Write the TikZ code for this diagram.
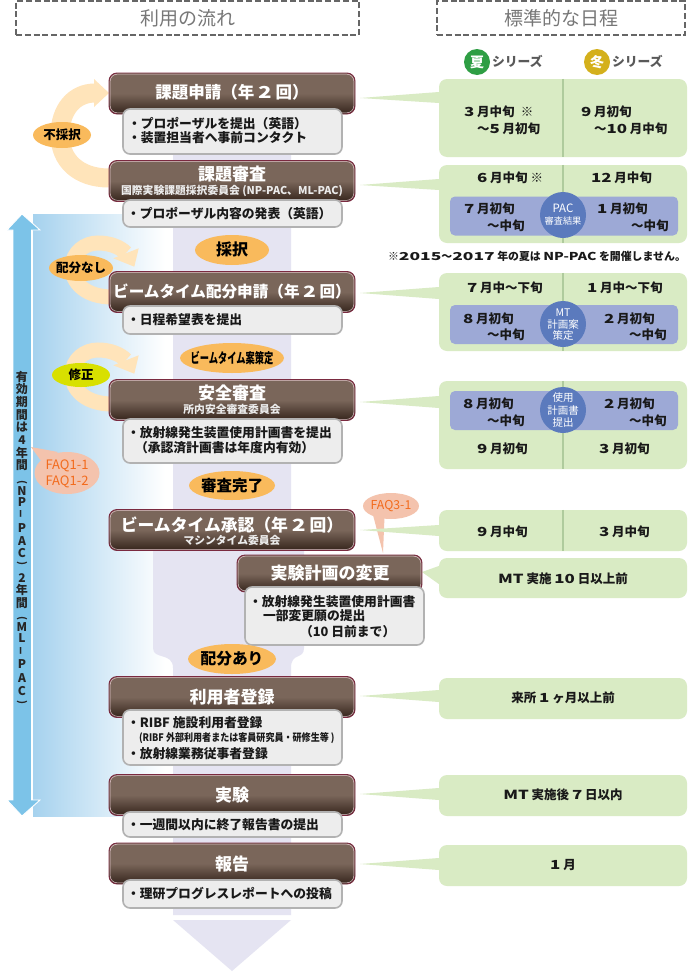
\documentclass[tikz,border=0pt]{standalone}
\usepackage{fontspec}
\usepackage{graphicx}
\setmainfont{Noto Sans CJK JP}
\usetikzlibrary{shapes.geometric,calc}
\definecolor{lav}{HTML}{E5E4F2}
\definecolor{orng}{HTML}{F9BA5C}
\definecolor{loopc}{HTML}{FFE4BA}
\definecolor{panelc}{HTML}{D9EBC4}
\definecolor{divc}{HTML}{AFCB9D}
\definecolor{innerc}{HTML}{9DA9D6}
\definecolor{circc}{HTML}{5B7ABD}
\definecolor{peach}{HTML}{F4C3AD}
\definecolor{faqt}{HTML}{F26B1D}
\definecolor{arrowb}{HTML}{7CC3E8}
\definecolor{maroonc}{HTML}{7A2A40}
\definecolor{pinkl}{HTML}{E2C4CA}
\definecolor{hdr}{HTML}{777777}
\definecolor{bb1}{HTML}{7A665A}
\definecolor{bb3}{HTML}{3D2C23}
\definecolor{skyb}{HTML}{A6D2EE}
\definecolor{limec}{HTML}{D8E000}
\definecolor{sumg}{HTML}{2E9E44}
\definecolor{winy}{HTML}{D4B01C}
\pgfdeclareverticalshading{brownbar}{100bp}{color(0bp)=(bb3); color(28bp)=(bb3); color(50bp)=(bb1); color(100bp)=(bb1)}
\newcounter{tnc}
\newcommand\fz[1]{\fontsize{#1}{#1}\selectfont}
\newcommand\wid[2][1.35]{\scalebox{#1}[1]{#2}}
\newcommand\txtn[4]{\stepcounter{tnc}\node[tx,#3] (tx\arabic{tnc}) at (#1,#2) {\rule[-.14em]{0pt}{1em}#4};}
\newcommand\txv[4]{\stepcounter{tnc}\node[tx,font=\bfseries\fz{#3},rotate=#4,text=black!85] (tx\arabic{tnc}) at (22,#1) {#2};}
\newcommand\tibox[5]{\node[titlebox,minimum width=#4,minimum height=#5] (#1) at (#2,#3) {};
 \node[titlein,minimum width=#4-2.4,minimum height=#5-2.4] (#1i) at (#2,#3) {};}
\newcommand\debox[5]{\node[detailbox,minimum width=#4,minimum height=#5] (#1) at (#2,#3) {};}
\newcommand\ovl[8]{\node[ellipse,fill=#6,inner sep=0,minimum width=#4,minimum height=#5] (#1) at (#2,#3) {};
 \node[tx,font=\bfseries\fz{#7}] (#1t) at (#1.center) {\rule[-.14em]{0pt}{1em}#8};}
\newcommand\pnl[5]{\node[panelbox,minimum width=#4,minimum height=#5] (#1) at (#2,#3) {};}
\newcommand\ptrn[4]{\fill[panelc] (360,#2) -- (#1.west |- 0,#3) -- (#1.west |- 0,#4) -- cycle;}
\tikzset{
 tx/.style={inner sep=0,outer sep=0,anchor=center,text=black},
 ttl/.style={text=white,font=\bfseries\fz{#1}},
 sub/.style={text=white!92!black,font=\bfseries\fz{10.8}},
 det/.style={anchor=west,font=\bfseries\fz{12.8},text=black!90},
 sch/.style={anchor=west,font=\bfseries\fz{12.5},text=black!90},
 schc/.style={font=\bfseries\fz{12.5},text=black!90},
 cir/.style={text=white,font=\fz{#1}},
 titlebox/.style={rounded corners=8pt,draw=maroonc,line width=.9pt,shading=brownbar,inner sep=0},
 titlein/.style={rounded corners=7pt,draw=pinkl,line width=.5pt,inner sep=0},
 detailbox/.style={rounded corners=7pt,draw=black!30,fill=black!7,line width=1.6pt,inner sep=0},
 panelbox/.style={rounded corners=8pt,fill=panelc,inner sep=0},
 innerbox/.style={rounded corners=5pt,fill=innerc,inner sep=0,minimum width=228,minimum height=39},
 circbox/.style={circle,fill=circc,inner sep=0,minimum size=46},
 headbox/.style={draw=black!60,line width=1.8pt,dash pattern=on 6pt off 2.8pt,inner sep=0,minimum height=34},
 bandc/.style={fill=lav},
 loopband/.style={draw=loopc,line width=#1},
 loophead/.style={fill=loopc},
}
\begin{document}
\begin{tikzpicture}[x=1pt,y=-1pt]
\useasboundingbox (0,0) rectangle (690,972);
\fill[white] (0,0) rectangle (690,972);
% headers
\node[headbox,minimum width=343] (h1) at (187.5,18) {};
\node[tx,text=hdr,font=\fz{19}] (h1t) at (h1.center) {利用の流れ};
\node[headbox,minimum width=248] (h2) at (561,18) {};
\node[tx,text=hdr,font=\fz{19}] (h2t) at (h2.center) {標準的な日程};
% blue gradient
\shade[left color=skyb,right color=white] (33,214) rectangle (165,816);
% lavender band
\path[bandc] (173,150) -- (173,535) -- (153,545) -- (153,648) .. controls (153,660) and (173,652) .. (173,668) -- (173,915) -- (291,915) -- (291,668) .. controls (291,652) and (304,660) .. (304,648) -- (304,545) -- (291,535) -- (291,150) -- cycle;
\path[bandc] (173,920) -- (291,920) -- (232,971) -- cycle;
% long double arrow
\path[fill=arrowb,draw=white,line width=.9pt] (22,214) -- (40,230) -- (31.5,230) -- (31.5,800) -- (40,800) -- (22,816) -- (7,800) -- (13,800) -- (13,230) -- (7,230) -- cycle;
\foreach \c/\y in {有/377,効/389,期/402,間/415,は/427,4/440,年/453,間/465,N/491,P/502,P/528,A/541,C/553,2/578,年/590,間/603,M/627,L/638,P/664,A/678,C/691}{
 \txv{\y}{\c}{12}{0}
}
\txv{482}{(}{10}{-90}
\txv{514}{\scalebox{2}[1]{-}}{12}{90}
\txv{563}{)}{10}{-90}
\txv{618}{(}{10}{-90}
\txv{651}{\scalebox{2}[1]{-}}{12}{90}
\txv{702}{)}{10}{-90}
% loops
\path[loopband=19pt] (109,178) .. controls (78,178) and (60,160) .. (60,135) .. controls (60,110) and (74,93) .. (95,93);
\path[loophead] (109,93) -- (94,79) -- (94,107) -- cycle;
\path[loopband=15pt] (112,297) .. controls (85,297) and (72,282) .. (72,268) .. controls (72,252) and (85,243) .. (98,243) .. controls (110,243) and (120,247) .. (126,253);
\path[loophead] (134.3,266.7) -- (138.7,248.3) -- (113.3,258.3) -- cycle;
\path[loopband=15pt] (112,404) .. controls (85,404) and (72,389) .. (72,375) .. controls (72,359) and (85,350) .. (98,350) .. controls (110,350) and (120,354) .. (126,360);
\path[loophead] (134.3,373.7) -- (138.7,355.3) -- (113.3,365.3) -- cycle;
% callout FAQ1
\path[fill=peach] (31,447) -- (58,452) -- (42,462) -- cycle;
\node[ellipse,fill=peach,inner sep=0,minimum width=65,minimum height=42] (faq1) at (67,473) {};
\txtn{67}{465.5}{font=\fz{13},text=faqt}{FAQ1-1}
\txtn{67}{481}{font=\fz{13},text=faqt}{FAQ1-2}
% callout FAQ3
\path[fill=peach] (373,515) -- (383,553) -- (384.5,517) -- cycle;
\node[ellipse,fill=peach,inner sep=0,minimum width=56,minimum height=26] (faq3) at (391,506) {};
\node[tx,font=\fz{12.3},text=faqt] (faq3t) at (faq3.center) {FAQ3-1};
% panels
\pnl{p1}{563}{118}{248}{78}
\pnl{p2}{563}{204}{248}{78}
\pnl{p3}{563}{312}{248}{78}
\pnl{p4}{563}{425}{248}{88}
\pnl{p5}{563}{530.5}{248}{41}
\pnl{p6}{563}{578}{248}{40}
\pnl{p7}{563}{698.5}{248}{41}
\pnl{p8}{563}{795.5}{248}{41}
\pnl{p9}{563}{865.5}{248}{41}
\ptrn{p1}{98}{92}{103}
\ptrn{p2}{185}{179}{190}
\ptrn{p3}{293}{287}{299}
\ptrn{p4}{402}{396}{408}
\ptrn{p5}{530}{525}{536}
\ptrn{p7}{696}{690}{702}
\ptrn{p8}{794}{788}{800}
\ptrn{p9}{864}{858}{870}
\fill[panelc] (422,572) -- (p6.west |- 0,566) -- (p6.west |- 0,584) -- cycle;
\foreach \p in {p1,p2,p3,p4,p5}{\draw[divc,line width=1.2pt] (\p.north) -- (\p.south);}
% inner bars and circles
\node[innerbox] (i2) at (564,216) {};
\node[innerbox] (i3) at (564,324.5) {};
\node[innerbox] (i4) at (564,410.5) {};
\node[circbox] (c2) at (563,215) {};
\node[circbox] (c3) at (563,324) {};
\node[circbox] (c4) at (563,410) {};
% title boxes and details
\tibox{t1}{232}{93.5}{246}{41}
\debox{d1}{232.5}{131.5}{219}{45}
\tibox{t2}{232}{181}{246}{41}
\debox{d2}{232.5}{213.5}{219}{27}
\tibox{t3}{232}{292}{246}{41}
\debox{d3}{232.5}{320}{219}{28}
\tibox{t4}{232}{400}{246}{41}
\debox{d4}{232.5}{441}{219}{44}
\tibox{t5}{232}{530}{246}{41}
\tibox{t6}{329.5}{573.5}{185}{37}
\debox{d6}{334.5}{616}{179}{58}
\tibox{t7}{232}{697}{246}{41}
\debox{d7}{232.5}{737.5}{219}{55}
\tibox{t8}{232}{795}{246}{41}
\debox{d8}{232.5}{824.5}{219}{25}
\tibox{t9}{232}{863.5}{246}{41}
\debox{d9}{232.5}{894}{219}{28}
% title texts
\txtn{232}{93}{ttl=16.5}{課題申請（年 \wid{2} 回）}
\txtn{232}{174}{ttl=17}{課題審査}
\txtn{232}{191}{sub}{国際実験課題採択委員会 (NP-PAC、ML-PAC)}
\txtn{232}{292}{ttl=15.6}{ビームタイム配分申請（年 \wid{2} 回）}
\txtn{232}{393}{ttl=17}{安全審査}
\txtn{232}{410}{sub}{所内安全審査委員会}
\txtn{232}{525}{ttl=16.8}{ビームタイム承認（年 \wid{2} 回）}
\txtn{232}{541}{sub}{マシンタイム委員会}
\txtn{330}{573}{ttl=17}{実験計画の変更}
\txtn{232}{697}{ttl=17}{利用者登録}
\txtn{232}{795}{ttl=17}{実験}
\txtn{232}{864}{ttl=17}{報告}
% detail texts
\txtn{128}{123.5}{det}{・プロポーザルを提出（英語）}
\txtn{128}{138}{det}{・装置担当者へ事前コンタクト}
\txtn{127}{214}{det}{・プロポーザル内容の発表（英語）}
\txtn{127}{320}{det}{・日程希望表を提出}
\txtn{127}{433}{det}{・放射線発生装置使用計画書を提出}
\txtn{135}{448}{det}{（承認済計画書は年度内有効）}
\txtn{249}{602}{det}{・放射線発生装置使用計画書}
\txtn{263}{616}{det}{一部変更願の提出}
\txtn{300}{632}{det}{（10 日前まで）}
\txtn{127}{723}{det}{・RIBF 施設利用者登録}
\txtn{139}{738}{anchor=west,font=\bfseries\fz{10.4},text=black!90}{\scalebox{.87}[1]{(RIBF 外部利用者または客員研究員・研修生等 )}}
\txtn{127}{754}{det}{・放射線業務従事者登録}
\txtn{127}{825}{det}{・一週間以内に終了報告書の提出}
\txtn{127}{894}{det}{・理研プログレスレポートへの投稿}
% ovals
\ovl{e1}{62}{135}{58}{26}{orng}{12.5}{不採択}
\ovl{e2}{232}{250}{74}{30}{orng}{16}{採択}
\ovl{e3}{81}{268}{64}{26}{orng}{12.5}{配分なし}
\ovl{e4}{232}{358}{104}{30}{orng}{14}{\scalebox{.66}[1]{ビームタイム案策定}}
\ovl{e5}{81}{375}{58}{24}{limec}{12.5}{修正}
\ovl{e6}{232}{485.5}{86}{29}{orng}{15.5}{審査完了}
\ovl{e7}{232}{659}{88}{30}{orng}{15.7}{配分あり}
% series
\node[circle,fill=sumg,inner sep=0,minimum size=26] (s1) at (477,62) {};
\node[tx,text=white,font=\bfseries\fz{14}] (s1t) at (s1.center) {夏};
\txtn{492}{62}{anchor=west,font=\bfseries\fz{12.8},text=black!65}{シリーズ}
\node[circle,fill=winy,inner sep=0,minimum size=26] (s2) at (597,62) {};
\node[tx,text=white,font=\bfseries\fz{14}] (s2t) at (s2.center) {冬};
\txtn{612}{62}{anchor=west,font=\bfseries\fz{12.8},text=black!65}{シリーズ}
% schedule texts
\txtn{464}{112}{sch}{\wid{3} 月中旬\hspace{.5em}※}
\txtn{477}{129}{sch}{～\wid{5} 月初旬}
\txtn{581}{112}{sch}{\wid{9} 月初旬}
\txtn{594}{129}{sch}{～\wid{10} 月中旬}
\txtn{477}{178}{sch}{\wid{6} 月中旬 ※}
\txtn{591}{178}{sch}{\wid{12} 月中旬}
\txtn{464}{209}{sch}{\wid{7} 月初旬}
\txtn{487}{226}{sch}{～中旬}
\txtn{597}{209}{sch}{\wid{1} 月初旬}
\txtn{631}{226}{sch}{～中旬}
\txtn{563}{208}{cir=11.5}{PAC}
\txtn{563}{221}{cir=9.2}{審査結果}
\txtn{388}{257}{anchor=west,font=\bfseries\fz{10.9},text=black!90}{※\wid[1.6]{2015}～\wid[1.6]{2017} 年の夏は \wid[1.3]{NP-PAC} を開催しません。}
\txtn{467}{288}{sch}{\wid{7} 月中～下旬}
\txtn{587}{288}{sch}{\wid{1} 月中～下旬}
\txtn{463}{319}{sch}{\wid{8} 月初旬}
\txtn{487}{335}{sch}{～中旬}
\txtn{604}{319}{sch}{\wid{2} 月初旬}
\txtn{629}{335}{sch}{～中旬}
\txtn{563}{313}{cir=10.5}{MT}
\txtn{563}{324.5}{cir=10.5}{計画案}
\txtn{563}{336}{cir=10.5}{策定}
\txtn{463}{404}{sch}{\wid{8} 月初旬}
\txtn{487}{421}{sch}{～中旬}
\txtn{604}{404}{sch}{\wid{2} 月初旬}
\txtn{629}{421}{sch}{～中旬}
\txtn{563}{398}{cir=10.5}{使用}
\txtn{563}{411}{cir=10.5}{計画書}
\txtn{563}{423}{cir=10.5}{提出}
\txtn{477}{449}{sch}{\wid{9} 月初旬}
\txtn{599}{449}{sch}{\wid{3} 月初旬}
\txtn{477}{532}{sch}{\wid{9} 月中旬}
\txtn{599}{532}{sch}{\wid{3} 月中旬}
\txtn{563}{579}{schc}{\wid{MT} 実施 \wid{10} 日以上前}
\txtn{563}{698}{schc}{来所 \wid{1} ヶ月以上前}
\txtn{563}{795}{schc}{\wid{MT} 実施後 \wid{7} 日以内}
\txtn{563}{865}{schc}{\wid{1} 月}
\end{tikzpicture}
\end{document}
